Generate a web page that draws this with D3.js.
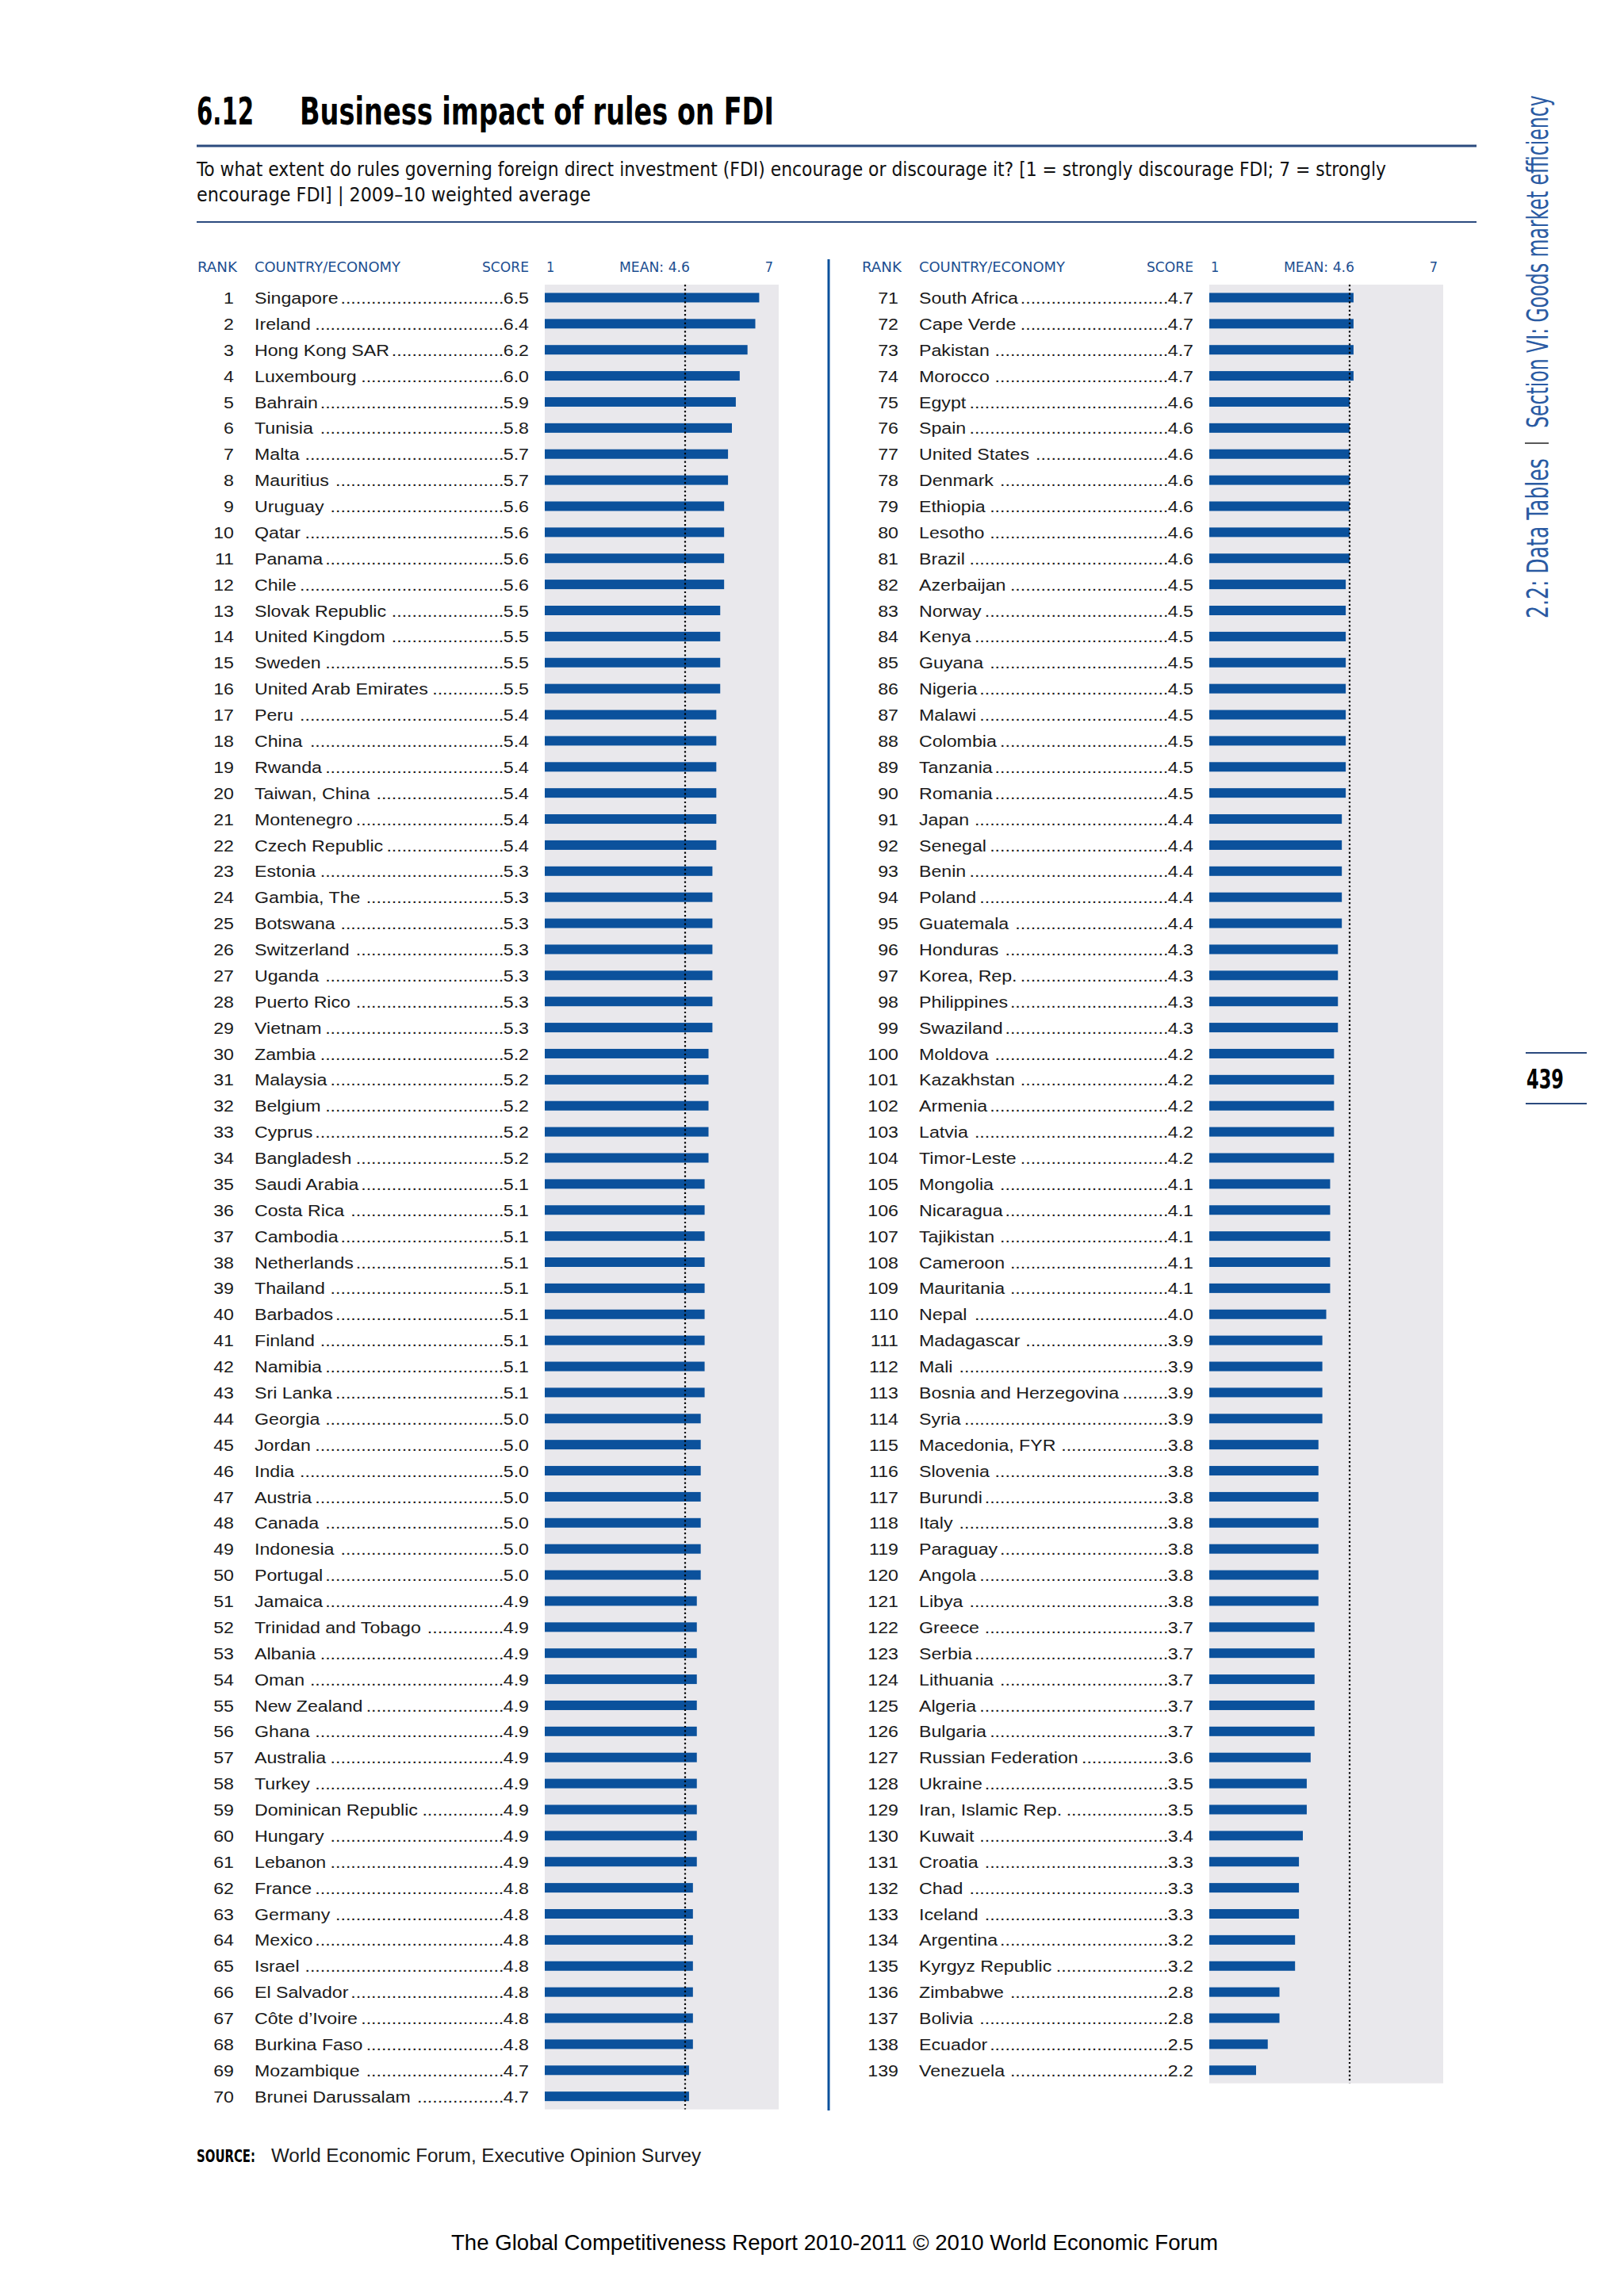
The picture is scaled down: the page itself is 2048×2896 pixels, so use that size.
<!DOCTYPE html>
<html>
<head>
<meta charset="utf-8">
<script src="https://cdn.jsdelivr.net/npm/d3@7"></script>
<style>
body { margin: 0; background: #fff; }
svg { display: block; }
</style>
</head>
<body>
<svg id="chart"></svg>
<script>
// table data
var countries = ["Singapore","Ireland","Hong Kong SAR","Luxembourg","Bahrain","Tunisia","Malta","Mauritius","Uruguay","Qatar",
  "Panama","Chile","Slovak Republic","United Kingdom","Sweden","United Arab Emirates","Peru","China","Rwanda","Taiwan, China",
  "Montenegro","Czech Republic","Estonia","Gambia, The","Botswana","Switzerland","Uganda","Puerto Rico","Vietnam","Zambia",
  "Malaysia","Belgium","Cyprus","Bangladesh","Saudi Arabia","Costa Rica","Cambodia","Netherlands","Thailand","Barbados",
  "Finland","Namibia","Sri Lanka","Georgia","Jordan","India","Austria","Canada","Indonesia","Portugal",
  "Jamaica","Trinidad and Tobago","Albania","Oman","New Zealand","Ghana","Australia","Turkey","Dominican Republic","Hungary",
  "Lebanon","France","Germany","Mexico","Israel","El Salvador","Côte d’Ivoire","Burkina Faso","Mozambique","Brunei Darussalam",
  "South Africa","Cape Verde","Pakistan","Morocco","Egypt","Spain","United States","Denmark","Ethiopia","Lesotho",
  "Brazil","Azerbaijan","Norway","Kenya","Guyana","Nigeria","Malawi","Colombia","Tanzania","Romania",
  "Japan","Senegal","Benin","Poland","Guatemala","Honduras","Korea, Rep.","Philippines","Swaziland","Moldova",
  "Kazakhstan","Armenia","Latvia","Timor-Leste","Mongolia","Nicaragua","Tajikistan","Cameroon","Mauritania","Nepal",
  "Madagascar","Mali","Bosnia and Herzegovina","Syria","Macedonia, FYR","Slovenia","Burundi","Italy","Paraguay","Angola",
  "Libya","Greece","Serbia","Lithuania","Algeria","Bulgaria","Russian Federation","Ukraine","Iran, Islamic Rep.","Kuwait",
  "Croatia","Chad","Iceland","Argentina","Kyrgyz Republic","Zimbabwe","Bolivia","Ecuador","Venezuela"];

var scores = [6.5,6.4,6.2,6.0,5.9,5.8,5.7,5.7,5.6,5.6,
  5.6,5.6,5.5,5.5,5.5,5.5,5.4,5.4,5.4,5.4,
  5.4,5.4,5.3,5.3,5.3,5.3,5.3,5.3,5.3,5.2,
  5.2,5.2,5.2,5.2,5.1,5.1,5.1,5.1,5.1,5.1,
  5.1,5.1,5.1,5.0,5.0,5.0,5.0,5.0,5.0,5.0,
  4.9,4.9,4.9,4.9,4.9,4.9,4.9,4.9,4.9,4.9,
  4.9,4.8,4.8,4.8,4.8,4.8,4.8,4.8,4.7,4.7,
  4.7,4.7,4.7,4.7,4.6,4.6,4.6,4.6,4.6,4.6,
  4.6,4.5,4.5,4.5,4.5,4.5,4.5,4.5,4.5,4.5,
  4.4,4.4,4.4,4.4,4.4,4.3,4.3,4.3,4.3,4.2,
  4.2,4.2,4.2,4.2,4.1,4.1,4.1,4.1,4.1,4.0,
  3.9,3.9,3.9,3.9,3.8,3.8,3.8,3.8,3.8,3.8,
  3.8,3.7,3.7,3.7,3.7,3.7,3.6,3.5,3.5,3.4,
  3.3,3.3,3.3,3.2,3.2,2.8,2.8,2.5,2.2];

var header_labels = ["RANK", "COUNTRY/ECONOMY", "SCORE"];
var scale_min = 1, scale_max = 7;
var mean_score = 4.6;
var mean_label = "MEAN: 4.6";
var rows_per_column = 70;

var title_number = "6.12";
var title_text = "Business impact of rules on FDI";
var subtitle_lines = ["To what extent do rules governing foreign direct investment (FDI) encourage or discourage it? [1 = strongly discourage FDI; 7 = strongly",
                      "encourage FDI]  |  2009–10 weighted average"];
var source_text = "World Economic Forum, Executive Opinion Survey";
var footer_text = "The Global Competitiveness Report 2010-2011 © 2010 World Economic Forum";
var side_texts = ["2.2: Data Tables", "Section VI: Goods market efficiency"];
var page_number = "439";

var W = 2048, H = 2896;
var blue = "#1d4f91", bar_blue = "#0b519c", rule_blue = "#2b4a7e";
var cond = "'Liberation Sans Narrow', 'DejaVu Sans Condensed', 'Liberation Sans', sans-serif";
var plain = "'Liberation Sans', Arial, sans-serif";
var sx = 1.13;           // widen the body text a little, the original face is wider than Arial
var body_size = 20.5;

var svg = d3.select("#chart").attr("width", W).attr("height", H);
svg.append("rect").attr("width", W).attr("height", H).attr("fill", "#fff");

// title block
svg.append("text").text(title_number)
    .attr("x", 248).attr("y", 157)
    .attr("font-family", cond).attr("font-stretch", "condensed").attr("font-weight", "bold")
    .attr("font-size", 48).attr("textLength", 72).attr("lengthAdjust", "spacingAndGlyphs");
svg.append("text").text(title_text)
    .attr("x", 378).attr("y", 157)
    .attr("font-family", cond).attr("font-stretch", "condensed").attr("font-weight", "bold")
    .attr("font-size", 48).attr("textLength", 598).attr("lengthAdjust", "spacingAndGlyphs");

svg.append("line").attr("x1", 248).attr("x2", 1862).attr("y1", 184).attr("y2", 184)
    .attr("stroke", rule_blue).attr("stroke-width", 3);

var sub_lengths = [1500, 497];
svg.selectAll(".subtitle")
    .data(subtitle_lines)
    .enter().append("text")
    .attr("class", "subtitle")
    .text(function(d) { return d; })
    .attr("x", 248)
    .attr("y", function(d, i) { return 222 + i * 32; })
    .attr("font-family", cond).attr("font-stretch", "condensed")
    .attr("font-size", 25.5).attr("fill", "#111")
    .attr("textLength", function(d, i) { return sub_lengths[i]; })
    .attr("lengthAdjust", "spacingAndGlyphs");

svg.append("line").attr("x1", 248).attr("x2", 1862).attr("y1", 280).attr("y2", 280)
    .attr("stroke", rule_blue).attr("stroke-width", 2);

// column separator
svg.append("line").attr("x1", 1045).attr("x2", 1045).attr("y1", 327).attr("y2", 2662)
    .attr("stroke", bar_blue).attr("stroke-width", 3);

var step = 32.88;
var bar_h = 12;
var table_top = 359;

var y = d3.scaleBand()
    .domain(d3.range(rows_per_column))
    .range([table_top, table_top + rows_per_column * step]);

function drawColumn(rows, off, cls) {
    var x = d3.scaleLinear().domain([scale_min, scale_max]).range([687 + off, 982 + off]);
    var g = svg.append("g").attr("class", cls);

    // headers
    var hx = [{t: header_labels[0], x: 249, a: "start", len: 50},
              {t: header_labels[1], x: 321, a: "start", len: 184},
              {t: header_labels[2], x: 667, a: "end", len: 59}];
    g.selectAll(".hdr")
        .data(hx)
        .enter().append("text")
        .attr("class", "hdr")
        .text(function(d) { return d.t; })
        .attr("x", function(d) { return d.x + off; })
        .attr("y", 343)
        .attr("text-anchor", function(d) { return d.a; })
        .attr("font-family", cond).attr("font-stretch", "condensed")
        .attr("font-size", 18).attr("fill", blue)
        .attr("textLength", function(d) { return d.len; })
        .attr("lengthAdjust", "spacingAndGlyphs");

    var ticks = [{t: String(scale_min), x: x(scale_min) + 2, a: "start"},
                 {t: mean_label, x: x(mean_score) + 6, a: "end", len: 89},
                 {t: String(scale_max), x: x(scale_max) - 7, a: "end"}];
    g.selectAll(".tick_lbl")
        .data(ticks)
        .enter().append("text")
        .attr("class", "tick_lbl")
        .text(function(d) { return d.t; })
        .attr("x", function(d) { return d.x; })
        .attr("y", 343)
        .attr("text-anchor", function(d) { return d.a; })
        .attr("font-family", cond).attr("font-stretch", "condensed")
        .attr("font-size", 18).attr("fill", blue)
        .each(function(d) {
            if (d.len) d3.select(this).attr("textLength", d.len).attr("lengthAdjust", "spacingAndGlyphs");
        });

    // grey panel
    g.append("rect")
        .attr("x", x(scale_min)).attr("y", table_top)
        .attr("width", x(scale_max) - x(scale_min))
        .attr("height", rows.length * step)
        .attr("fill", "#e9e8ec");

    // bars
    g.selectAll(".bar")
        .data(rows)
        .enter().append("rect")
        .attr("class", "bar")
        .attr("x", x(scale_min))
        .attr("y", function(d, i) { return y(i) + (step - bar_h) / 2; })
        .attr("width", function(d) { return x(d.score) - x(scale_min); })
        .attr("height", bar_h)
        .attr("fill", bar_blue);

    // mean line
    g.append("line")
        .attr("x1", x(mean_score)).attr("x2", x(mean_score))
        .attr("y1", table_top).attr("y2", table_top + rows.length * step)
        .attr("stroke", "#000").attr("stroke-width", 2.2)
        .attr("stroke-dasharray", "2.2,3.1");

    function base(i) { return y(i) + step / 2 + 7.6; }

    function bodyText(sel) {
        return sel.attr("font-family", plain).attr("font-size", body_size).attr("fill", "#1a1a1a");
    }

    // rank
    bodyText(g.selectAll(".rank")
        .data(rows)
        .enter().append("text")
        .attr("class", "rank")
        .text(function(d) { return d.rank; })
        .attr("text-anchor", "end")
        .attr("transform", function(d, i) { return "translate(" + (295 + off) + "," + base(i) + ") scale(" + sx + ",1)"; }));

    // names
    var names = bodyText(g.selectAll(".name")
        .data(rows)
        .enter().append("text")
        .attr("class", "name")
        .text(function(d) { return d.country; })
        .attr("transform", function(d, i) { return "translate(" + (321 + off) + "," + base(i) + ") scale(" + sx + ",1)"; }));

    // scores
    var sc = bodyText(g.selectAll(".score")
        .data(rows)
        .enter().append("text")
        .attr("class", "score")
        .text(function(d) { return d.score.toFixed(1); })
        .attr("text-anchor", "end")
        .attr("transform", function(d, i) { return "translate(" + (667 + off) + "," + base(i) + ") scale(" + sx + ",1)"; }));

    // dot leaders between name and score
    var probe = bodyText(g.append("text").text("."));
    var dot_w = probe.node().getComputedTextLength() * sx;
    probe.remove();

    var name_w = [], score_w = [];
    names.each(function() { name_w.push(this.getComputedTextLength() * sx); });
    sc.each(function() { score_w.push(this.getComputedTextLength() * sx); });

    bodyText(g.selectAll(".dots")
        .data(rows)
        .enter().append("text")
        .attr("class", "dots")
        .attr("text-anchor", "end")
        .text(function(d, i) {
            var avail = (667 + off - score_w[i]) - (321 + off + name_w[i]) - 2;
            var n = Math.max(0, Math.floor(avail / dot_w));
            return new Array(n + 1).join(".");
        })
        .attr("transform", function(d, i) {
            return "translate(" + (667 + off - score_w[i] + 0.5) + "," + base(i) + ") scale(" + sx + ",1)";
        }));
}

var all_rows = countries.map(function(c, i) { return {rank: i + 1, country: c, score: scores[i]}; });
drawColumn(all_rows.slice(0, rows_per_column), 0, "col_left");
drawColumn(all_rows.slice(rows_per_column), 838, "col_right");

// source
svg.append("text").text("SOURCE:")
    .attr("x", 248).attr("y", 2727)
    .attr("font-family", cond).attr("font-stretch", "condensed").attr("font-weight", "bold")
    .attr("font-size", 22).attr("textLength", 74).attr("lengthAdjust", "spacingAndGlyphs");
svg.append("text").text(source_text)
    .attr("x", 342).attr("y", 2727)
    .attr("font-family", plain).attr("font-size", 23).attr("fill", "#1a1a1a")
    .attr("textLength", 542).attr("lengthAdjust", "spacingAndGlyphs");

// footer
svg.append("text").text(footer_text)
    .attr("x", 569).attr("y", 2838)
    .attr("font-family", plain).attr("font-size", 28).attr("fill", "#000")
    .attr("textLength", 967).attr("lengthAdjust", "spacingAndGlyphs");

// side running head, reads bottom to top; squeezed along the baseline to the printed length
var side = [{t: side_texts[0], y: 780, len: 202}, {t: side_texts[1], y: 540, len: 420}];
svg.selectAll(".side")
    .data(side)
    .enter().append("text")
    .attr("class", "side")
    .text(function(d) { return d.t; })
    .attr("font-family", cond).attr("font-stretch", "condensed")
    .attr("font-size", 37).attr("fill", "#2a5aa2")
    .attr("transform", function(d) {
        var k = d.len / this.getComputedTextLength();
        return "translate(1952," + d.y + ") rotate(-90) scale(" + k + ",1)";
    });
svg.append("line").attr("x1", 1923).attr("x2", 1953).attr("y1", 559).attr("y2", 559)
    .attr("stroke", "#222").attr("stroke-width", 1.5);

// page number
svg.append("line").attr("x1", 1924).attr("x2", 2001).attr("y1", 1328).attr("y2", 1328)
    .attr("stroke", rule_blue).attr("stroke-width", 2);
svg.append("line").attr("x1", 1924).attr("x2", 2001).attr("y1", 1392).attr("y2", 1392)
    .attr("stroke", rule_blue).attr("stroke-width", 2);
svg.append("text").text(page_number)
    .attr("x", 1925).attr("y", 1373)
    .attr("font-family", cond).attr("font-stretch", "condensed").attr("font-weight", "bold")
    .attr("font-size", 33).attr("textLength", 47).attr("lengthAdjust", "spacingAndGlyphs");
</script>
</body>
</html>
